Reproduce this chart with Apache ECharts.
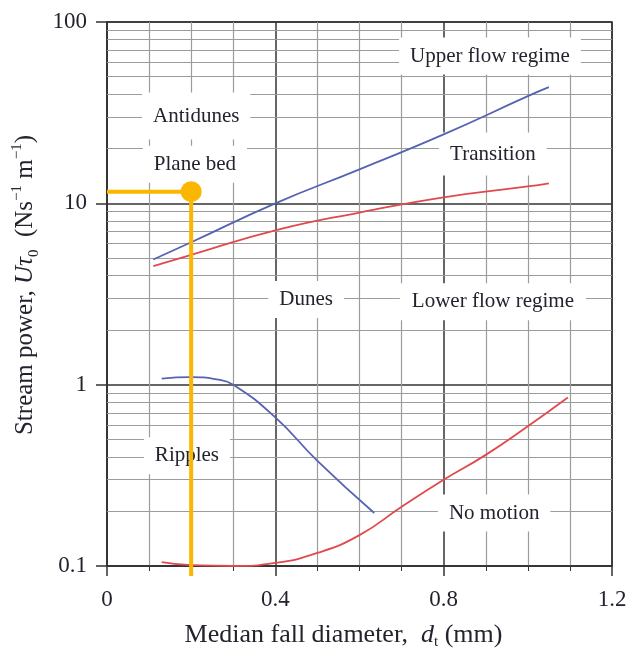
<!DOCTYPE html>
<html>
<head>
<meta charset="utf-8">
<script src="https://cdn.jsdelivr.net/npm/echarts@6/dist/echarts.min.js"></script>
<style>
  html, body { margin: 0; padding: 0; background: #fff; }
  #main { width: 629px; height: 649px; }
</style>
</head>
<body>
<div id="main"></div>
<script>
// curve data: [median fall diameter (mm), stream power]
var upperFlow = [[0.11, 4.9], [0.2, 6.1], [0.4, 10], [0.6, 15.4], [0.8, 24], [1.0, 39], [1.05, 43.7]];
var transition = [[0.11, 4.5], [0.2, 5.2], [0.4, 7.1], [0.6, 8.9], [0.8, 10.8], [1.0, 12.4], [1.05, 12.9]];
var ripples = [[0.13, 1.08], [0.2, 1.1], [0.26, 1.07], [0.3, 1.0], [0.4, 0.66], [0.5, 0.38], [0.635, 0.196]];
var noMotion = [[0.13, 0.105], [0.2, 0.101], [0.3, 0.1], [0.4, 0.104], [0.5, 0.118], [0.6, 0.148],
    [0.7, 0.212], [0.8, 0.299], [0.9, 0.41], [1.0, 0.59], [1.095, 0.85]];
// the worked example (yellow)
var examplePoint = [0.2, 11.6];
var exampleLine = [[0, 11.6], [0.2, 11.6], [0.2, 0.088]];
// region names
var regionNames = ['Antidunes', 'Plane bed', 'Upper flow regime', 'Transition', 'Dunes', 'Lower flow regime', 'Ripples', 'No motion'];
var regionAt = [[0.212, 30.3], [0.209, 16.4], [0.91, 64.9], [0.917, 18.7], [0.473, 2.95], [0.917, 2.87], [0.19, 0.406], [0.92, 0.196]];
var xTicks = [0, 0.4, 0.8, 1.2];
var yDecades = [0.1, 1, 10, 100];

var FONT = 'Liberation Serif';
var INK = '#23232e';
var padByName = { 'Antidunes': [13, 11], 'Transition': [11, 11], 'Lower flow regime': [8, 12] };

// minor log grid lines at 2..9 of each decade
var minorY = [];
for (var d = 0; d < yDecades.length - 1; d++) {
    for (var m = 2; m <= 9; m++) {
        minorY.push({ yAxis: +(m * yDecades[d]).toPrecision(3) });
    }
}

var dom = document.getElementById('main');
var myChart = echarts.init(dom);

var option = {
    backgroundColor: '#fff',
    animation: false,
    grid: {
        left: 107, right: 17, top: 22, bottom: 83,
        outerBoundsMode: 'none',
        show: true, borderColor: '#333', borderWidth: 1.5
    },
    xAxis: {
        type: 'value',
        min: xTicks[0],
        max: xTicks[xTicks.length - 1],
        interval: 0.4,
        name: '{n|Median fall diameter,  }{i|d}{sub|t}{n| (mm)}',
        nameLocation: 'middle',
        nameGap: 54,
        nameTextStyle: {
            padding: [0, 32, 0, 0],
            rich: {
                n: { fontFamily: FONT, fontSize: 26, color: INK, lineHeight: 30 },
                i: { fontFamily: FONT, fontSize: 26, color: INK, fontStyle: 'italic', lineHeight: 30 },
                sub: { fontFamily: FONT, fontSize: 15, color: INK, verticalAlign: 'bottom', lineHeight: 30 }
            }
        },
        axisLine: { show: true, lineStyle: { color: '#333', width: 1.5 } },
        axisTick: { show: true, length: 10, lineStyle: { color: '#333', width: 1.5 } },
        minorTick: { show: true, splitNumber: 4, length: 5, lineStyle: { color: '#333' } },
        axisLabel: {
            fontFamily: FONT, fontSize: 23, color: INK, margin: 22,
            formatter: function (v) { return String(+v.toFixed(1)); }
        },
        splitLine: { show: true, lineStyle: { color: '#333', width: 1.5 } },
        minorSplitLine: { show: true, lineStyle: { color: '#9c9c9c', width: 1.2 } }
    },
    yAxis: {
        type: 'log',
        logBase: 10,
        min: yDecades[0],
        max: yDecades[yDecades.length - 1],
        name: '{n|Stream power, }{i|Uτ}{sub|0}{n|  (Ns}{sup|−1}{n| m}{sup|−1}{n|)}',
        nameLocation: 'middle',
        nameRotate: 90,
        nameGap: 63,
        nameTextStyle: {
            padding: [0, 0, 0, 18],
            rich: {
                n: { fontFamily: FONT, fontSize: 25, color: INK, lineHeight: 32 },
                i: { fontFamily: FONT, fontSize: 25, color: INK, fontStyle: 'italic', lineHeight: 32 },
                sub: { fontFamily: FONT, fontSize: 15, color: INK, verticalAlign: 'bottom', lineHeight: 32 },
                sup: { fontFamily: FONT, fontSize: 15, color: INK, verticalAlign: 'top', lineHeight: 32 }
            }
        },
        axisLine: { show: true, lineStyle: { color: '#333', width: 1.5 } },
        axisTick: { show: true, length: 11, lineStyle: { color: '#333', width: 1.5 } },
        axisLabel: {
            fontFamily: FONT, fontSize: 23, color: INK, margin: 20,
            formatter: function (v) { return String(+v.toPrecision(2)); }
        },
        splitLine: { show: true, lineStyle: { color: '#333', width: 1.5 } }
    },
    series: [
        {
            // carries the minor horizontal grid lines
            type: 'line',
            data: [],
            z: 1,
            silent: true,
            markLine: {
                z: 1,
                silent: true,
                symbol: 'none',
                label: { show: false },
                lineStyle: { color: '#9c9c9c', width: 1.2, type: 'solid' },
                data: minorY
            }
        },
        {
            type: 'scatter',
            z: 4,
            silent: true,
            symbolSize: 1,
            itemStyle: { color: '#fff', opacity: 1 },
            data: regionNames.map(function (n, i) {
                return {
                    value: regionAt[i],
                    label: {
                        show: true,
                        position: 'inside',
                        formatter: n,
                        fontFamily: FONT,
                        fontSize: 21,
                        color: INK,
                        textBorderWidth: 0,
                        backgroundColor: '#fff',
                        padding: padByName[n] || [8, 11]
                    }
                };
            })
        },
        {
            name: 'Upper flow', type: 'line', z: 6, smooth: true, symbol: 'none', data: upperFlow,
            lineStyle: { color: '#5662b2', width: 1.8 }
        },
        {
            name: 'Transition', type: 'line', z: 6, smooth: true, symbol: 'none', data: transition,
            lineStyle: { color: '#e04a4e', width: 1.8 }
        },
        {
            name: 'Ripples', type: 'line', z: 6, smooth: true, symbol: 'none', data: ripples,
            lineStyle: { color: '#5662b2', width: 1.8 }
        },
        {
            name: 'No motion', type: 'line', z: 6, smooth: true, symbol: 'none', data: noMotion,
            lineStyle: { color: '#e04a4e', width: 1.8 }
        },
        {
            name: 'Example', type: 'line', z: 8, symbol: 'none', clip: false, data: exampleLine,
            lineStyle: { color: '#fbb600', width: 4 }
        },
        {
            name: 'Example point', type: 'scatter', z: 9, symbolSize: 21, data: [examplePoint],
            itemStyle: { color: '#fbb600', opacity: 1 }
        }
    ]
};

if (option && typeof option === "object") {
    myChart.setOption(option, true);
}
</script>
</body>
</html>
